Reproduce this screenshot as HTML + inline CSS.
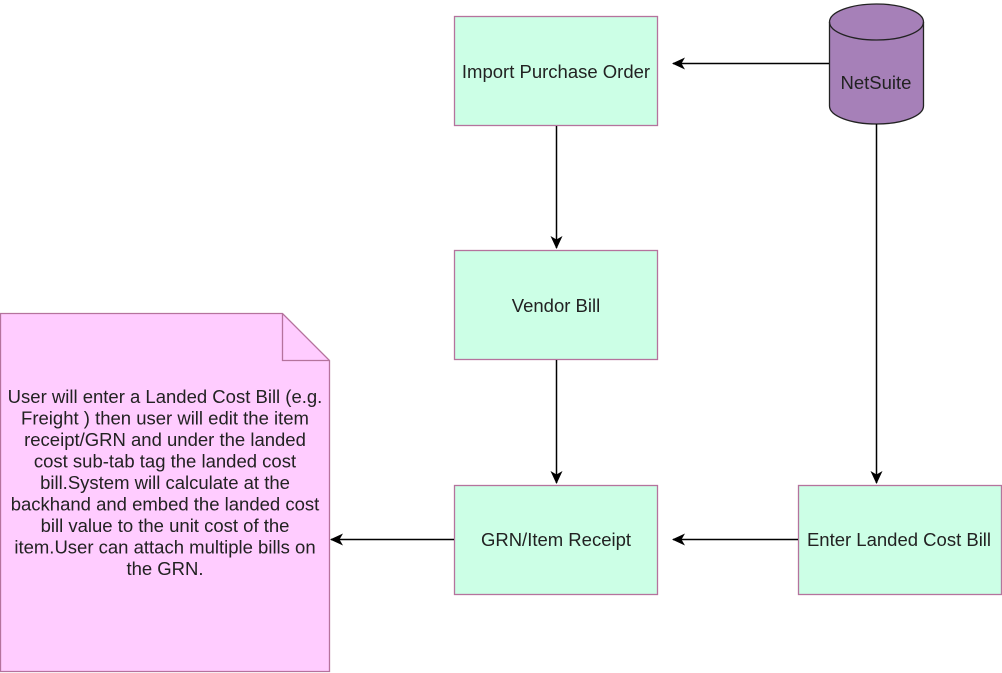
<!DOCTYPE html>
<html><head><style>
body{margin:0;width:1002px;height:673px;background:#fff;overflow:hidden;font-family:"Liberation Sans",Arial,sans-serif;}
</style></head><body>
<svg width="1002" height="673" viewBox="0 0 1002 673" xmlns="http://www.w3.org/2000/svg" style="position:absolute;left:0;top:0">
<defs><marker id="a" markerWidth="13" markerHeight="12" refX="12" refY="6" orient="auto" markerUnits="userSpaceOnUse"><path d="M0,0 L13,6 L0,12 L3.5,6 Z" fill="#000"/></marker></defs>
<g font-family="Liberation Sans, Arial, sans-serif" font-size="18.5" fill="#222" text-anchor="middle">
<rect x="454.5" y="16.5" width="203" height="109" fill="#ccffe6" stroke="#b5739d" stroke-width="1.3"/>
<text x="556" y="78">Import Purchase Order</text>
<rect x="454.5" y="250.5" width="203" height="109" fill="#ccffe6" stroke="#b5739d" stroke-width="1.3"/>
<text x="556" y="312">Vendor Bill</text>
<rect x="454.5" y="485.5" width="203" height="109" fill="#ccffe6" stroke="#b5739d" stroke-width="1.3"/>
<text x="556" y="546">GRN/Item Receipt</text>
<rect x="798.5" y="485.5" width="203" height="109" fill="#ccffe6" stroke="#b5739d" stroke-width="1.3"/>
<text x="899" y="546">Enter Landed Cost Bill</text>
<path d="M829.5,22 A47,18 0 0 1 923.5,22 L923.5,106 A47,18 0 0 1 829.5,106 Z" fill="#a680b8" stroke="#222" stroke-width="1.3"/>
<path d="M829.5,22 A47,18 0 0 0 923.5,22" fill="none" stroke="#222" stroke-width="1.3"/>
<text x="876" y="89">NetSuite</text>
<path d="M0.5,313.5 L282.5,313.5 L329.5,360.5 L329.5,671.5 L0.5,671.5 Z" fill="#ffccff" stroke="#b5739d" stroke-width="1.3"/>
<path d="M282.5,313.5 L282.5,360.5 L329.5,360.5" fill="none" stroke="#b5739d" stroke-width="1.3"/>
<text x="165" y="403">User will enter a Landed Cost Bill (e.g.</text>
<text x="165" y="424.5">Freight ) then user will edit the item</text>
<text x="165" y="446">receipt/GRN and under the landed</text>
<text x="165" y="467.5">cost sub-tab tag the landed cost</text>
<text x="165" y="489">bill.System will calculate at the</text>
<text x="165" y="510.5">backhand and embed the landed cost</text>
<text x="165" y="532">bill value to the unit cost of the</text>
<text x="165" y="553.5">item.User can attach multiple bills on</text>
<text x="165" y="575">the GRN.</text>
</g>
<g stroke="#000" stroke-width="1.5" fill="none">
<line x1="829" y1="63.5" x2="673" y2="63.5" marker-end="url(#a)"/>
<line x1="556.5" y1="126" x2="556.5" y2="248" marker-end="url(#a)"/>
<line x1="556.5" y1="360" x2="556.5" y2="483" marker-end="url(#a)"/>
<line x1="876.5" y1="124" x2="876.5" y2="483" marker-end="url(#a)"/>
<line x1="798" y1="539.5" x2="673" y2="539.5" marker-end="url(#a)"/>
<line x1="454" y1="539.5" x2="331" y2="539.5" marker-end="url(#a)"/>
</g>
</svg>
</body></html>
